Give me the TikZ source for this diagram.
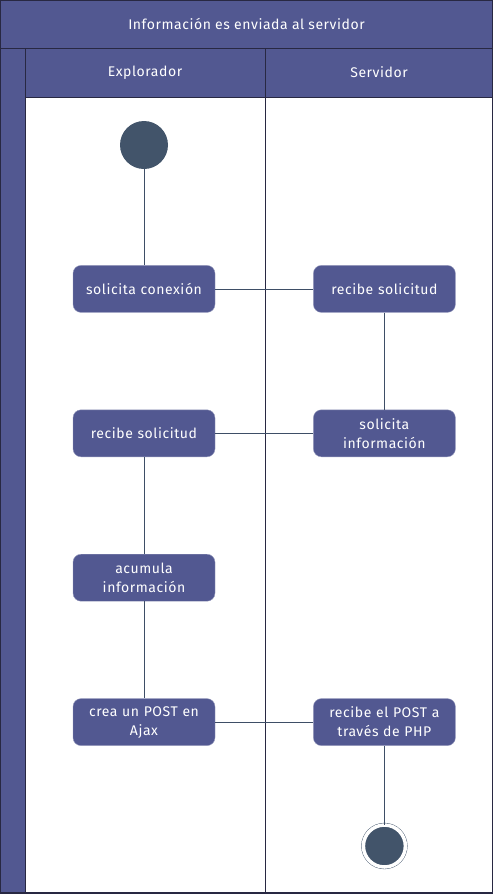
\documentclass[tikz,border=0pt]{standalone}
\usepackage{fontspec}
\setmainfont{Fira Sans}[LetterSpace=4]
\usetikzlibrary{positioning}
\definecolor{lanefill}{RGB}{82,88,145}
\definecolor{laneline}{RGB}{40,40,66}
\definecolor{dotfill}{RGB}{66,84,106}
\definecolor{wire}{RGB}{62,78,102}

\begin{document}
\begin{tikzpicture}[x=1pt, y=1pt, node distance=97pt and 98pt, action/.style={rounded corners=8pt, draw=lanefill!60!white, fill=lanefill, text=white, minimum width=142pt, minimum height=47pt, text width=136pt, align=center, inner sep=3pt, font=\fontsize{14}{19}\selectfont}, startdot/.style={circle, fill=dotfill, minimum size=48pt, inner sep=0pt}, enddot/.style={circle, draw=dotfill, double=white, double distance=3.5pt, fill=dotfill, minimum size=42pt, inner sep=0pt}, lanelabel/.style={text=white, font=\fontsize{14}{16}\selectfont}]

    %Lanes
    \useasboundingbox (0,0) rectangle (493,-895);
    \fill[lanefill] (0,0) rectangle (493,-48);
    \fill[lanefill] (0,-48) rectangle (25,-893);
    \fill[lanefill] (25,-48) rectangle (493,-97);
    \draw[laneline, line width=1.2pt] (0.6,-0.6) rectangle (492.4,-893);
    \draw[laneline, line width=1pt] (0,-48) -- (493,-48);
    \draw[laneline, line width=1pt] (25,-97) -- (493,-97);
    \draw[laneline, line width=1pt] (25,-48) -- (25,-893);
    \draw[laneline, line width=1pt] (265,-48) -- (265,-893);
    \node[lanelabel] (title) at (246.5,-24) {Información es enviada al servidor};
    \node[lanelabel] (browser) at (145,-72.5) {Explorador};
    \node[lanelabel] (server) at (379,-72.5) {Servidor};

    %Nodes
    \node[startdot] (start) at (144,-145) {};
    \node[action] (connect) [below=96pt of start] {solicita conexión};
    \node[action] (srvreceive) [right=of connect] {recibe solicitud};
    \node[action] (srvask) [below=of srvreceive] {solicita\\información};
    \node[action] (receive) [left=of srvask] {recibe solicitud};
    \node[action] (gather) [below=of receive] {acumula\\información};
    \node[action] (post) [below=of gather] {crea un POST en\\Ajax};
    \node[action] (php) [right=of post] {recibe el POST a\\través de PHP};
    \node[enddot] (finish) [below=79pt of php] {};

    %Lines
    \draw[wire] (start.south) -- (connect.north);
    \draw[wire] (connect.east) -- (srvreceive.west);
    \draw[wire] (srvreceive.south) -- (srvask.north);
    \draw[wire] (srvask.west) -- (receive.east);
    \draw[wire] (receive.south) -- (gather.north);
    \draw[wire] (gather.south) -- (post.north);
    \draw[wire] (post.east) -- (php.west);
    \draw[wire] (php.south) -- (finish.north);

\end{tikzpicture}
\end{document}
